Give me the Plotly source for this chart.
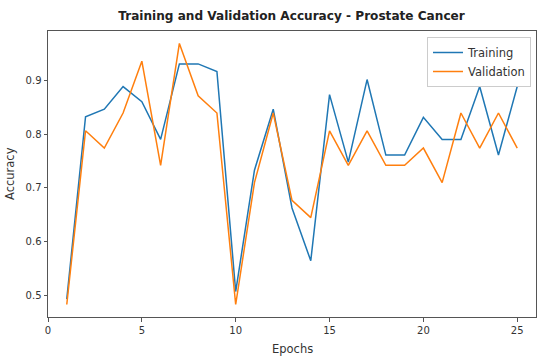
import plotly.graph_objects as go

epochs = list(range(1, 26))
training = [0.494, 0.832, 0.846, 0.888, 0.860, 0.790, 0.930, 0.930, 0.916, 0.508,
            0.733, 0.846, 0.663, 0.565, 0.873, 0.748, 0.901, 0.761, 0.761, 0.831,
            0.790, 0.790, 0.888, 0.761, 0.888]
validation = [0.484, 0.806, 0.774, 0.839, 0.935, 0.742, 0.968, 0.871, 0.839, 0.484,
              0.710, 0.839, 0.677, 0.645, 0.806, 0.742, 0.806, 0.742, 0.742, 0.774,
              0.710, 0.839, 0.774, 0.839, 0.774]
x_ticks = [0, 5, 10, 15, 20, 25]
y_ticks = [0.5, 0.6, 0.7, 0.8, 0.9]

font = "DejaVu Sans"
W, H = 550, 363
L, R, T, B = 48, 14, 31, 46
PW, PH = W - L - R, H - T - B

fig = go.Figure()
fig.add_trace(go.Scatter(x=epochs, y=training, mode="lines", name="Training",
                         line=dict(color="#1f77b4", width=1.5)))
fig.add_trace(go.Scatter(x=epochs, y=validation, mode="lines", name="Validation",
                         line=dict(color="#ff7f0e", width=1.5)))

axis_common = dict(showline=True, mirror=True, linecolor="#555", linewidth=1,
                   ticks="outside", ticklen=3.5, tickcolor="#555", showgrid=False,
                   zeroline=False, automargin=False,
                   tickfont=dict(family=font, size=10, color="#333"))
fig.update_layout(
    width=W, height=H,
    margin=dict(l=L, r=R, t=T, b=B),
    paper_bgcolor="white", plot_bgcolor="white",
    title=dict(text="<b>Training and Validation Accuracy - Prostate Cancer</b>",
               x=291.5 / W, xanchor="center", xref="container",
               y=1 - 16 / H, yanchor="middle",
               font=dict(family=font, size=12.1, color="#222")),
    xaxis=dict(range=[0, 26], tickvals=x_ticks, **axis_common),
    yaxis=dict(range=[0.4608, 0.991], tickvals=y_ticks,
               ticktext=[f"{v:.1f}" for v in y_ticks], **axis_common),
    legend=dict(x=(531 - L) / PW, y=(H - B - 37) / PH,
                xanchor="right", yanchor="top",
                bgcolor="rgba(255,255,255,0.8)", bordercolor="#ccc", borderwidth=1,
                font=dict(family=font, size=11.5, color="#333"),
                tracegroupgap=0, itemwidth=30),
    showlegend=True,
    annotations=[
        dict(text="Epochs", xref="paper", yref="paper", x=0.5,
             y=-(349 - (H - B)) / PH, xanchor="center", yanchor="middle",
             showarrow=False, font=dict(family=font, size=11.5, color="#333")),
        dict(text="Accuracy", xref="paper", yref="paper", x=-(L - 10) / PW,
             y=0.5, xanchor="center", yanchor="middle", textangle=-90,
             showarrow=False, font=dict(family=font, size=11.5, color="#333")),
    ],
)
fig.write_html("out.html", config={"displayModeBar": False},
               post_script="document.body.style.margin='0px';document.body.style.overflow='hidden';")
